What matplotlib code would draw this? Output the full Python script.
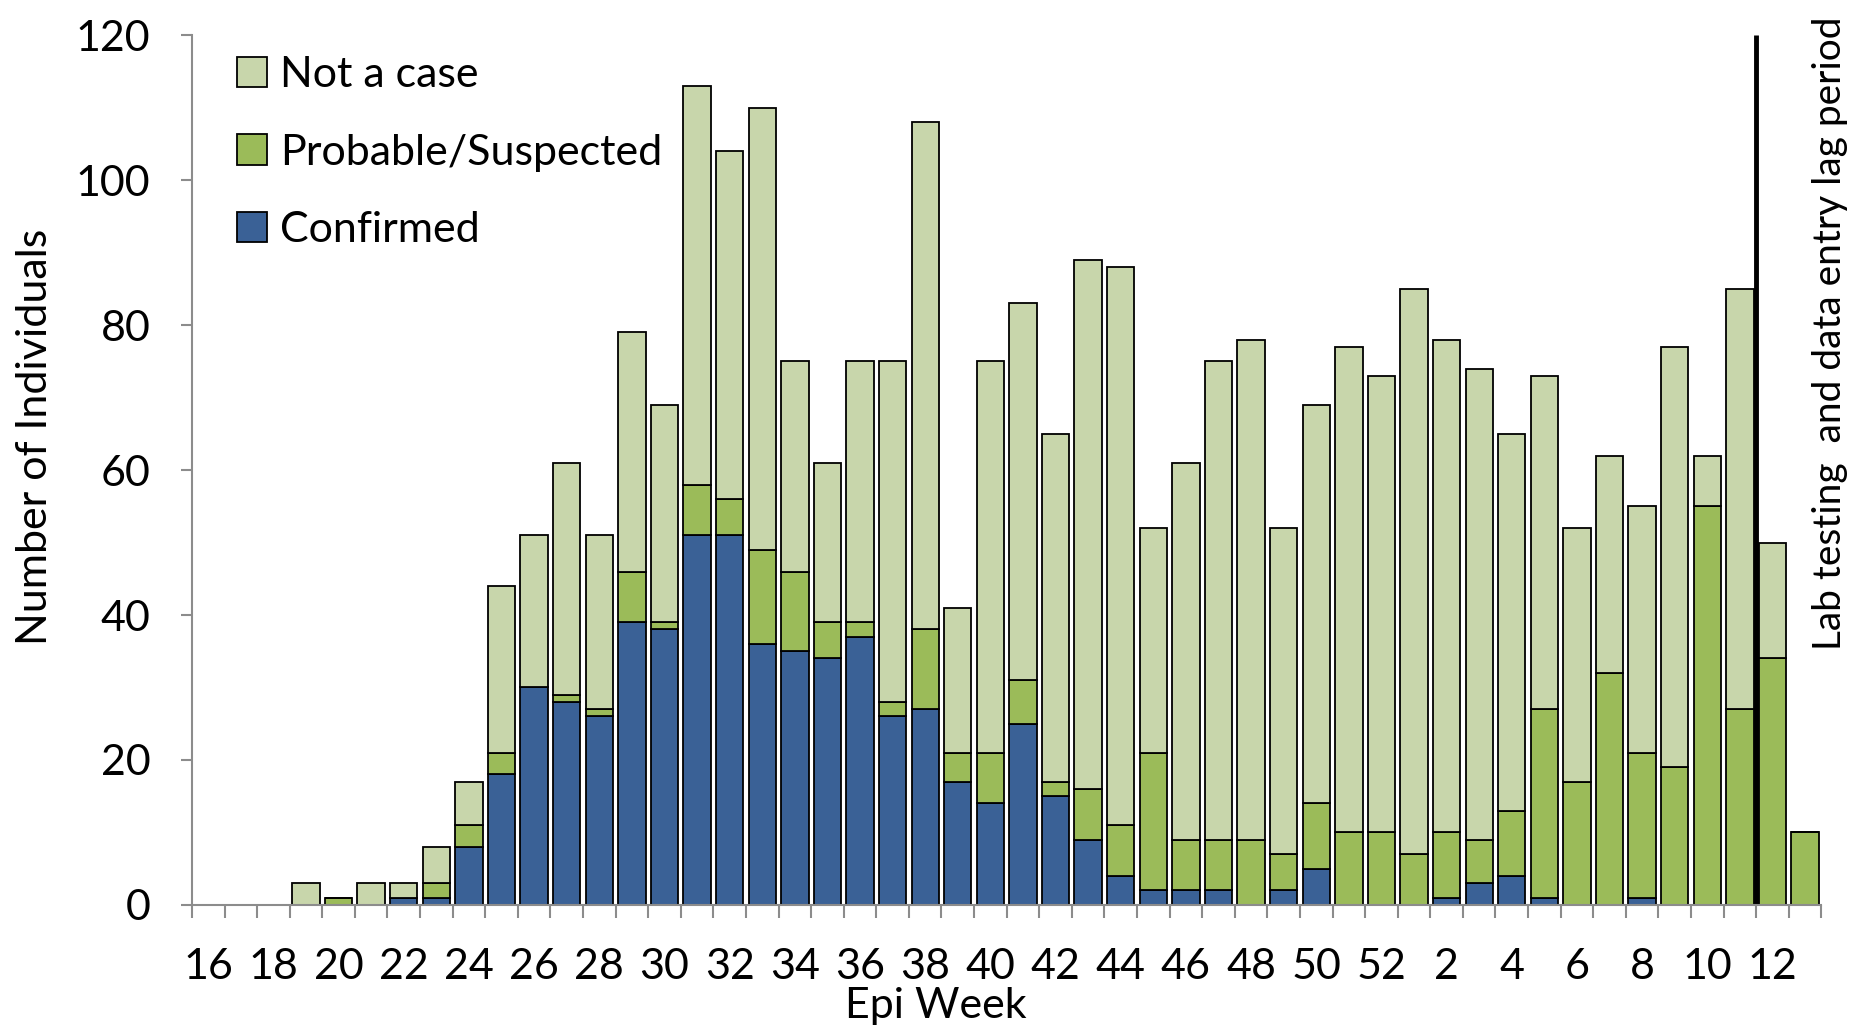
import matplotlib
matplotlib.use("Agg")
import matplotlib.pyplot as plt
import numpy as np

plt.rcParams['font.family'] = ['Lato', 'DejaVu Sans']

# epi weeks (2014 wk16 .. 2015 wk13)
weeks = list(range(16, 53)) + list(range(1, 14))

confirmed = [0, 0, 0, 0, 0, 0, 1, 1, 8, 18, 30, 28, 26, 39, 38, 51, 51, 36, 35, 34,
             37, 26, 27, 17, 14, 25, 15, 9, 4, 2, 2, 2, 0, 2, 5, 0, 0,
             0, 1, 3, 4, 1, 0, 0, 1, 0, 0, 0, 0, 0]
probable = [0, 0, 0, 0, 1, 0, 0, 2, 3, 3, 0, 1, 1, 7, 1, 7, 5, 13, 11, 5,
            2, 2, 11, 4, 7, 6, 2, 7, 7, 19, 7, 7, 9, 5, 9, 10, 10,
            7, 9, 6, 9, 26, 17, 32, 20, 19, 55, 27, 34, 10]
not_case = [0, 0, 0, 3, 0, 3, 2, 5, 6, 23, 21, 32, 24, 33, 30, 55, 48, 61, 29, 22,
            36, 47, 70, 20, 54, 52, 48, 73, 77, 31, 52, 66, 69, 45, 55, 67, 63,
            78, 68, 65, 52, 46, 35, 30, 34, 58, 7, 58, 16, 0]

c_not = '#c8d6ab'
c_prob = '#9bbb59'
c_conf = '#3a6196'

fs = 31

fig = plt.figure(figsize=(18.51, 10.27), dpi=100)
ax = fig.add_axes([0.1037, 0.119, 0.8803, 0.8465])

x = np.arange(len(weeks)) + 0.5
conf = np.array(confirmed)
prob = np.array(probable)
nc = np.array(not_case)

w = 0.84
ax.bar(x, conf, w, color=c_conf, edgecolor='black', linewidth=1.3, label='Confirmed')
ax.bar(x, prob, w, bottom=conf, color=c_prob, edgecolor='black', linewidth=1.3, label='Probable/Suspected')
ax.bar(x, nc, w, bottom=conf + prob, color=c_not, edgecolor='black', linewidth=1.3, label='Not a case')

# lag period marker between week 11 and week 12
lag_idx = weeks.index(12, 37)
ax.plot([lag_idx, lag_idx], [0, 120], color='black', linewidth=3.5, solid_capstyle='butt')

ax.set_xlim(0, len(weeks))
ax.set_ylim(0, 120)

for s in ['top', 'right']:
    ax.spines[s].set_visible(False)
for s in ['left', 'bottom']:
    ax.spines[s].set_color('#8c8c8c')
    ax.spines[s].set_linewidth(1.5)

ax.set_yticks(range(0, 121, 20))
ax.tick_params(axis='y', direction='out', length=8, width=1.5, color='#8c8c8c',
               labelsize=fs, pad=22)

ax.set_xticks(np.arange(0, len(weeks) + 1))
ax.set_xticklabels([])
ax.tick_params(axis='x', which='major', direction='out', length=9, width=1.5, color='#8c8c8c')
ax.set_xticks(x[::2], minor=True)
ax.set_xticklabels([str(wk) for wk in weeks[::2]], minor=True)
ax.tick_params(axis='x', which='minor', length=0, labelsize=fs, pad=31)

fig.text(936 / 1851, 1 - 1006 / 1027, 'Epi Week', ha='center', va='center', fontsize=fs)
fig.text(35 / 1851, 1 - 437 / 1027, 'Number of Individuals', ha='center', va='center',
         rotation=90, fontsize=fs)
fig.text(1830 / 1851, 1 - 650 / 1027, 'Lab testing  and data entry lag period',
         ha='center', va='bottom', rotation=90, fontsize=28)

h, l = ax.get_legend_handles_labels()
ax.legend(h[::-1], l[::-1], loc='upper left', bbox_to_anchor=(237 / 1851, 1 - 56 / 1027),
          bbox_transform=fig.transFigure, frameon=False, fontsize=fs,
          handlelength=0.7, handleheight=0.7, handletextpad=0.3, labelspacing=0.92,
          borderaxespad=0, borderpad=0)

fig.savefig('out.png', dpi=100)
